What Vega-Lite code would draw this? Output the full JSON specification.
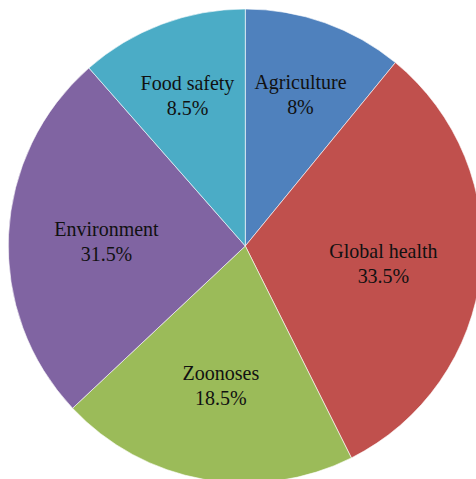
{
  "$schema": "https://vega.github.io/schema/vega-lite/v6.json",
  "width": 490.6,
  "height": 492,
  "autosize": {"type": "none"},
  "padding": 0,
  "background": "white",
  "view": {"stroke": null},
  "data": {
    "values": [
      {"idx": 1, "category": "Agriculture", "share": 39.3, "label": "Agriculture\n8%"},
      {"idx": 2, "category": "Global health", "share": 114.1, "label": "Global health\n33.5%"},
      {"idx": 3, "category": "Zoonoses", "share": 73.4, "label": "Zoonoses\n18.5%"},
      {"idx": 4, "category": "Environment", "share": 91.9, "label": "Environment\n31.5%"},
      {"idx": 5, "category": "Food safety", "share": 41.3, "label": "Food safety\n8.5%"}
    ]
  },
  "encoding": {
    "theta": {"field": "share", "type": "quantitative", "stack": true},
    "order": {"field": "idx", "type": "quantitative"}
  },
  "layer": [
    {
      "mark": {"type": "arc", "outerRadius": 237, "stroke": "#ffffff", "strokeWidth": 0.6},
      "encoding": {
        "color": {
          "field": "category",
          "type": "nominal",
          "scale": {
            "domain": ["Agriculture", "Global health", "Zoonoses", "Environment", "Food safety"],
            "range": ["#4F81BD", "#C0504D", "#9BBB59", "#8064A2", "#4BACC6"]
          },
          "legend": null
        }
      }
    },
    {
      "mark": {"type": "text", "radius": {"expr": "datum.share < 50 ? 164 : 139"}, "font": "Liberation Serif", "fontSize": 20, "lineBreak": "\n", "lineHeight": 25, "dy": -9, "color": "#111111", "baseline": "middle", "align": "center"},
      "encoding": {
        "text": {"field": "label", "type": "nominal"}
      }
    }
  ]
}
